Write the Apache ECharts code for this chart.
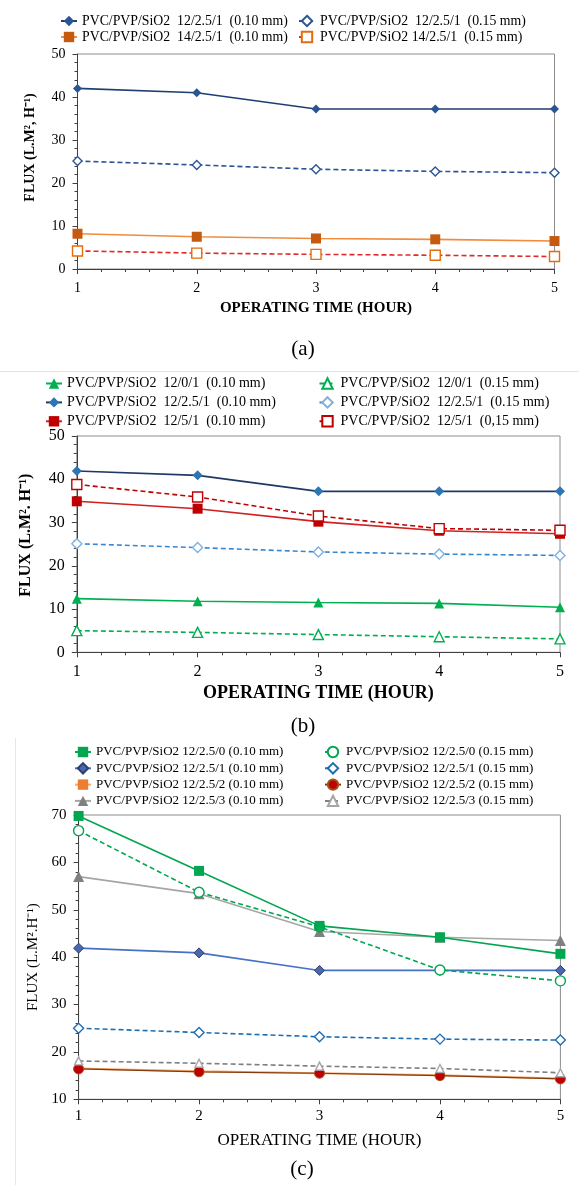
<!DOCTYPE html>
<html>
<head>
<meta charset="utf-8">
<script src="https://cdn.jsdelivr.net/npm/echarts@6/dist/echarts.min.js"></script>
<style>
body{margin:0;background:#fff;}
.chart{position:absolute;left:0;width:579px;}
</style>
</head>
<body>
<div id="chartA" class="chart" style="top:0;height:372px"></div>
<div id="chartB" class="chart" style="top:372px;height:366px"></div>
<div id="chartC" class="chart" style="top:738px;height:447px"></div>
<script>
var hours = [1, 2, 3, 4, 5];

// (a)
var a_12_25_1_010 = [42.0, 41.0, 37.2, 37.2, 37.2];
var a_12_25_1_015 = [25.1, 24.2, 23.2, 22.7, 22.4];
var a_14_25_1_010 = [8.2, 7.5, 7.1, 6.9, 6.5];
var a_14_25_1_015 = [4.2, 3.7, 3.4, 3.2, 2.9];

// (b)
var b_12_0_1_010 = [12.4, 11.8, 11.5, 11.3, 10.4];
var b_12_0_1_015 = [5.0, 4.6, 4.1, 3.6, 3.1];
var b_12_25_1_010 = [41.9, 40.9, 37.2, 37.2, 37.2];
var b_12_25_1_015 = [25.1, 24.2, 23.2, 22.7, 22.4];
var b_12_5_1_010 = [34.9, 33.2, 30.2, 28.1, 27.4];
var b_12_5_1_015 = [38.8, 35.9, 31.5, 28.6, 28.2];

// (c)
var c_12_25_0_010 = [69.8, 58.2, 46.6, 44.2, 40.7];
var c_12_25_0_015 = [66.7, 53.7, 46.4, 37.3, 35.0];
var c_12_25_1_010 = [41.9, 40.9, 37.2, 37.2, 37.2];
var c_12_25_1_015 = [25.0, 24.1, 23.2, 22.7, 22.5];
var c_12_25_2_010 = [16.5, 15.9, 15.5, 15.1, 14.4];
var c_12_25_2_015 = [16.4, 15.8, 15.5, 15.0, 14.3];
var c_12_25_3_010 = [57.0, 53.4, 45.4, 44.2, 43.5];
var c_12_25_3_015 = [18.1, 17.6, 17.0, 16.5, 15.6];

var serif = "'Liberation Serif', 'Times New Roman', serif";

function pts(arr) {
    return hours.map(function (h, i) { return [h, arr[i]]; });
}

// one line series, solid or dashed, filled or open marker
function line(name, data, o) {
    return {
        name: name,
        type: 'line',
        data: pts(data),
        symbol: o.symbol,
        symbolSize: o.size,
        lineStyle: { color: o.line, width: o.lw || 1.6, type: o.dash ? [5, 3] : 'solid' },
        itemStyle: {
            color: o.open ? '#ffffff' : o.fill,
            borderColor: o.border || o.fill,
            borderWidth: o.open ? 1.4 : (o.border ? 1 : 0)
        },
        emphasis: { disabled: true }
    };
}

function legend(left, top, gap, font, names) {
    return {
        orient: 'vertical',
        left: left,
        top: top,
        padding: 0,
        itemGap: gap,
        itemWidth: 16,
        itemHeight: 13,
        selectedMode: false,
        textStyle: { fontFamily: serif, fontSize: font, color: '#000' },
        data: names
    };
}

function build(c) {
    return {
        animation: false,
        backgroundColor: '#fff',
        title: {
            text: c.label,
            left: c.labelX,
            top: c.labelY,
            textAlign: 'center',
            textStyle: { fontFamily: serif, fontSize: 21, fontWeight: 'normal', color: '#000' }
        },
        legend: c.legends,
        grid: {
            left: c.grid[0], top: c.grid[1], right: c.grid[2], bottom: c.grid[3],
            show: true, borderColor: '#8c8c8c', borderWidth: 1
        },
        xAxis: {
            type: 'value', min: 1, max: 5, interval: 1,
            name: 'OPERATING TIME (HOUR)', nameLocation: 'middle', nameGap: c.xNameGap,
            nameTextStyle: { fontFamily: serif, fontSize: c.xNameSize, fontWeight: c.bold ? 'bold' : 'normal', color: '#000' },
            axisLine: { lineStyle: { color: '#404040' } },
            axisTick: { length: 5, lineStyle: { color: '#404040' } },
            minorTick: { show: true, splitNumber: 5, length: 3, lineStyle: { color: '#404040' } },
            splitLine: { show: false },
            axisLabel: { fontFamily: serif, fontSize: c.tickSize, color: '#000', margin: c.xLabelMargin }
        },
        yAxis: {
            type: 'value', min: c.yMin, max: c.yMax, interval: 10,
            name: c.yName, nameLocation: 'middle', nameGap: c.yNameGap, nameRotate: 90,
            nameTextStyle: { fontFamily: serif, fontSize: c.yNameSize, fontWeight: c.bold ? 'bold' : 'normal', color: '#000', padding: c.yNamePad },
            axisLine: { show: true, lineStyle: { color: '#404040' } },
            axisTick: { show: true, length: 5, lineStyle: { color: '#404040' } },
            minorTick: { show: true, splitNumber: 5, length: 3, lineStyle: { color: '#404040' } },
            splitLine: { show: false },
            axisLabel: { fontFamily: serif, fontSize: c.tickSize, color: '#000', margin: 12 }
        },
        graphic: c.graphic || [],
        series: c.series
    };
}

// ---------- (a)
var nA = [
    'PVC/PVP/SiO2  12/2.5/1  (0.10 mm)',
    'PVC/PVP/SiO2  12/2.5/1  (0.15 mm)',
    'PVC/PVP/SiO2  14/2.5/1  (0.10 mm)',
    'PVC/PVP/SiO2 14/2.5/1  (0.15 mm)'
];
var chartA = echarts.init(document.getElementById('chartA'));
chartA.setOption(build({
    label: '(a)', labelX: 298, labelY: 334,
    grid: [77.5, 54, 24.5, 103],
    yMin: 0, yMax: 50,
    yName: 'FLUX (L.M², H⁻¹)', yNameGap: 40, yNameSize: 14, yNamePad: [0, 0, 0, 28],
    xNameGap: 32, xNameSize: 15, xLabelMargin: 12,
    tickSize: 14, bold: true,
    legends: [
        legend(60, 14, 2, 13.8, [nA[0], nA[2]]),
        legend(298, 14, 2, 13.8, [nA[1], nA[3]])
    ],
    graphic: [{ type: 'line', shape: { x1: 0, y1: 371.5, x2: 579, y2: 371.5 }, style: { stroke: '#e3e3e3', lineWidth: 1 } }],
    series: [
        line(nA[0], a_12_25_1_010, { symbol: 'diamond', size: 9, fill: '#2a5595', line: '#1f3f73' }),
        line(nA[1], a_12_25_1_015, { symbol: 'diamond', size: 9, fill: '#2a5595', border: '#2a5595', line: '#2a5595', open: true, dash: true }),
        line(nA[2], a_14_25_1_010, { symbol: 'rect', size: 10, fill: '#c55a11', line: '#f08c3c' }),
        line(nA[3], a_14_25_1_015, { symbol: 'rect', size: 10, fill: '#e46c0a', border: '#e46c0a', line: '#e02a2a', open: true, dash: true })
    ]
}));

// ---------- (b)
var nB = [
    'PVC/PVP/SiO2  12/0/1  (0.10 mm)',
    'PVC/PVP/SiO2  12/0/1  (0.15 mm)',
    'PVC/PVP/SiO2  12/2.5/1  (0.10 mm)',
    'PVC/PVP/SiO2  12/2.5/1  (0.15 mm)',
    'PVC/PVP/SiO2  12/5/1  (0.10 mm)',
    'PVC/PVP/SiO2  12/5/1  (0,15 mm)'
];
var chartB = echarts.init(document.getElementById('chartB'));
chartB.setOption(build({
    label: '(b)', labelX: 298, labelY: 339,
    grid: [76.8, 64, 19, 85.7],
    yMin: 0, yMax: 50,
    yName: 'FLUX (L.M². H⁻¹)', yNameGap: 43, yNameSize: 16, yNamePad: [0, 0, 0, 18],
    xNameGap: 30, xNameSize: 18, xLabelMargin: 11,
    tickSize: 16, bold: true,
    legends: [
        legend(45, 4.5, 4.9, 14, [nB[0], nB[2], nB[4]]),
        legend(318.5, 4.5, 4.9, 14, [nB[1], nB[3], nB[5]])
    ],
    series: [
        line(nB[0], b_12_0_1_010, { symbol: 'triangle', size: 10, fill: '#00b050', line: '#00b050' }),
        line(nB[1], b_12_0_1_015, { symbol: 'triangle', size: 10, fill: '#00b050', border: '#00b050', line: '#00b050', open: true, dash: true }),
        line(nB[2], b_12_25_1_010, { symbol: 'diamond', size: 10, fill: '#2e75b6', line: '#203864' }),
        line(nB[3], b_12_25_1_015, { symbol: 'diamond', size: 10, fill: '#5b9bd5', border: '#7fb0e0', line: '#3a87d0', open: true, dash: true }),
        line(nB[4], b_12_5_1_010, { symbol: 'rect', size: 10, fill: '#c00000', line: '#d02020' }),
        line(nB[5], b_12_5_1_015, { symbol: 'rect', size: 10, fill: '#c00000', border: '#c00000', line: '#c00000', open: true, dash: true })
    ]
}));

// ---------- (c)
var nC = [
    'PVC/PVP/SiO2 12/2.5/0 (0.10 mm)',
    'PVC/PVP/SiO2 12/2.5/0 (0.15 mm)',
    'PVC/PVP/SiO2 12/2.5/1 (0.10 mm)',
    'PVC/PVP/SiO2 12/2.5/1 (0.15 mm)',
    'PVC/PVP/SiO2 12/2.5/2 (0.10 mm)',
    'PVC/PVP/SiO2 12/2.5/2 (0.15 mm)',
    'PVC/PVP/SiO2 12/2.5/3 (0.10 mm)',
    'PVC/PVP/SiO2 12/2.5/3 (0.15 mm)'
];
var chartC = echarts.init(document.getElementById('chartC'));
chartC.setOption(build({
    label: '(c)', labelX: 297, labelY: 416,
    grid: [78.6, 77, 18.6, 85.7],
    yMin: 10, yMax: 70,
    yName: 'FLUX (L.M².H⁻¹)', yNameGap: 36, yNameSize: 15, yNamePad: [0, 0, 0, 0],
    xNameGap: 33, xNameSize: 17, xLabelMargin: 9,
    tickSize: 15, bold: false,
    legends: [
        legend(74, 7.5, 3.3, 13, [nC[0], nC[2], nC[4], nC[6]]),
        legend(324, 7.5, 3.3, 13, [nC[1], nC[3], nC[5], nC[7]])
    ],
    graphic: [{ type: 'line', shape: { x1: 15.5, y1: 0, x2: 15.5, y2: 447 }, style: { stroke: '#e6e6e6', lineWidth: 1 } }],
    series: [
        line(nC[4], c_12_25_2_010, { symbol: 'rect', size: 5, fill: '#ed7d31', line: '#f4a46a', lw: 2 }),
        line(nC[5], c_12_25_2_015, { symbol: 'circle', size: 10, fill: '#c00000', border: '#a0521a', line: '#843c0c', lw: 1.2 }),
        line(nC[7], c_12_25_3_015, { symbol: 'triangle', size: 8, fill: '#a6a6a6', border: '#a6a6a6', line: '#7f7f7f', open: true, dash: true }),
        line(nC[3], c_12_25_1_015, { symbol: 'diamond', size: 10, fill: '#1f6eb4', border: '#1f6eb4', line: '#1f6eb4', open: true, dash: true }),
        line(nC[2], c_12_25_1_010, { symbol: 'diamond', size: 10, fill: '#4a68b0', border: '#2f3f6f', line: '#4472c4' }),
        line(nC[6], c_12_25_3_010, { symbol: 'triangle', size: 11, fill: '#808080', line: '#a6a6a6' }),
        line(nC[1], c_12_25_0_015, { symbol: 'circle', size: 10, fill: '#00a650', border: '#00a650', line: '#00a650', open: true, dash: true }),
        line(nC[0], c_12_25_0_010, { symbol: 'rect', size: 10, fill: '#00a650', line: '#00a650' })
    ]
}));
</script>
</body>
</html>
